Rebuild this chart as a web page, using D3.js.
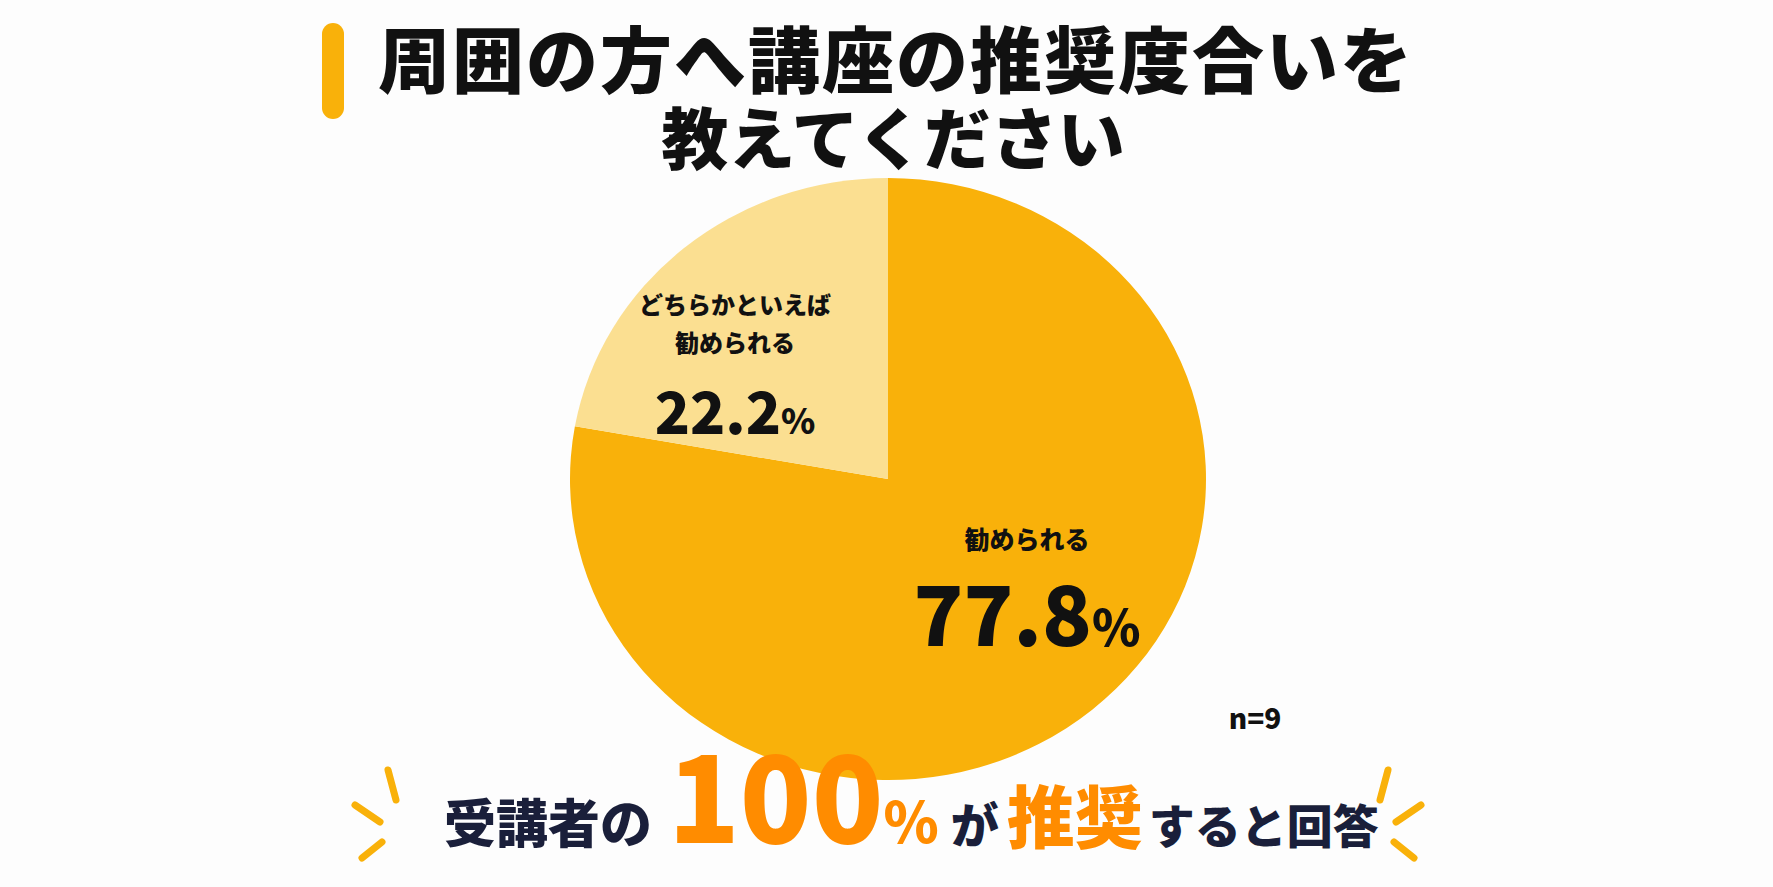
<!DOCTYPE html><html><head><meta charset="utf-8"><script src="https://cdn.jsdelivr.net/npm/d3@7"></script>
<style>body{margin:0;background:#fdfdfd}svg{display:block}text{font-family:"Noto Sans CJK JP",sans-serif;font-weight:900}</style></head><body>
<script>
const categories=["勧められる","どちらかといえば勧められる"];
const values=[77.8,22.2];
const colors=["#f9b10a","#fbdf91"];
const W=1773,H=887;
const svg=d3.select("body").append("svg").attr("width",W).attr("height",H);
svg.append("rect").attr("width",W).attr("height",H).attr("fill","#fdfdfd");
// title
svg.append("rect").attr("x",322).attr("y",23).attr("width",22).attr("height",96).attr("rx",11).attr("fill","#f9b10a");
svg.append("text").attr("x",896).attr("y",87).attr("text-anchor","middle").attr("font-size",72).attr("letter-spacing",2).attr("fill","#111").text("周囲の方へ講座の推奨度合いを");
svg.append("text").attr("x",893).attr("y",164).attr("text-anchor","middle").attr("font-size",67).attr("fill","#111").text("教えてください");
// pie
const cx=888,cy=479,rx=318,ry=301;
const pie=d3.pie().sort(null).value(d=>d)(values);
const arc=d3.arc().innerRadius(0).outerRadius(rx);
const g=svg.append("g").attr("transform",`translate(${cx},${cy}) scale(1,${ry/rx})`);
g.selectAll("path").data(pie).join("path").attr("d",arc).attr("fill",(d,i)=>colors[i]);
// labels
function lab(x,y,lines,fs,pct,pfs,py){
  lines.forEach((l,i)=>svg.append("text").attr("x",x).attr("y",y+i*38).attr("text-anchor","middle").attr("font-size",fs).attr("fill","#111").text(l));
  const t=svg.append("text").attr("x",x).attr("y",py).attr("text-anchor","middle").attr("font-size",pfs).attr("fill","#111");
  t.append("tspan").text(pct);t.append("tspan").attr("font-size",pfs*0.6).text("%");
}
lab(735,314,["どちらかといえば","勧められる"],24,values[1].toFixed(1),58,434);
lab(1027,549,["勧められる"],25,values[0].toFixed(1),82,646);
svg.append("text").attr("x",1255).attr("y",729).attr("text-anchor","middle").attr("font-size",28).attr("fill","#111").attr("font-family","Roboto").attr("font-weight",700).text("n=9");
// bottom
const b=svg.append("text").attr("y",843).attr("font-size",52).attr("fill","#1a1f3a");
b.append("tspan").attr("x",444).text("受講者の");
b.append("tspan").attr("x",668).attr("font-size",118).attr("fill","#ff8c00").text("100");
b.append("tspan").attr("font-size",56).attr("fill","#ff8c00").text("%");
b.append("tspan").attr("dx",12).attr("font-size",48).text("が");
b.append("tspan").attr("dx",8).attr("font-size",68).attr("fill","#ff8c00").text("推奨");
b.append("tspan").attr("dx",6).attr("font-size",46).text("すると回答");
// sparkles
const sp=[[[388,770],[396,800]],[[355,805],[380,822]],[[362,858],[382,842]]];
sp.forEach(s=>{
  svg.append("line").attr("x1",s[0][0]).attr("y1",s[0][1]).attr("x2",s[1][0]).attr("y2",s[1][1]).attr("stroke","#f9b10a").attr("stroke-width",7).attr("stroke-linecap","round");
  svg.append("line").attr("x1",1776-s[0][0]).attr("y1",s[0][1]).attr("x2",1776-s[1][0]).attr("y2",s[1][1]).attr("stroke","#f9b10a").attr("stroke-width",7).attr("stroke-linecap","round");
});
</script></body></html>
